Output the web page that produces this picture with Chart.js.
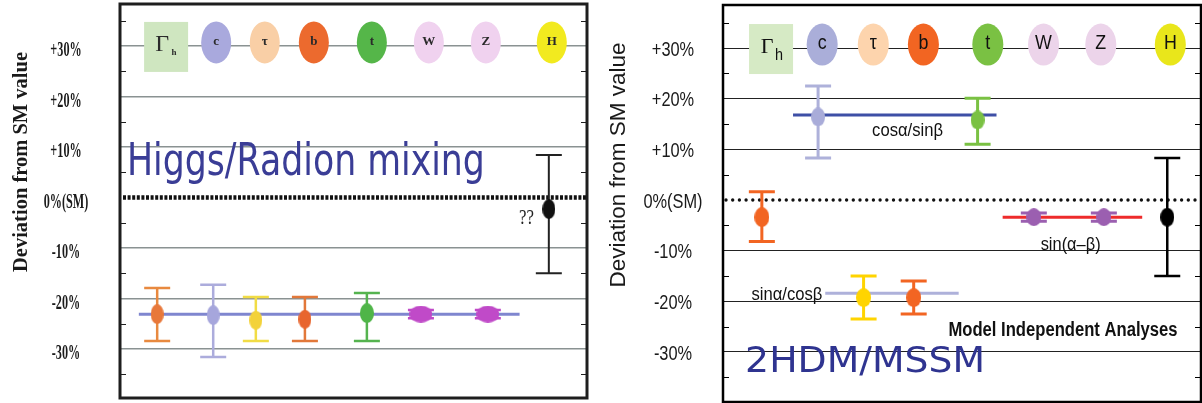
<!DOCTYPE html>
<html lang="en">
<head>
<meta charset="UTF-8">
<title>Deviation from SM value</title>
<script src="https://cdn.jsdelivr.net/npm/chart.js@4"></script>
<style>
  html, body { margin: 0; padding: 0; background: #fff; }
  .wrap { position: relative; width: 1202px; height: 403px; overflow: hidden; }
  canvas { position: absolute; top: 0; }
  #leftChart { left: 0; }
  #rightChart { left: 600px; }
</style>
</head>
<body>
<div class="wrap">
  <canvas id="leftChart" width="600" height="403"></canvas>
  <canvas id="rightChart" width="602" height="403"></canvas>
</div>
<script>
// couplings shown across the top of both panels
const markerNames = ['Γh', 'c', 'τ', 'b', 't', 'W', 'Z', 'H'];
const gridValues = [-30, -20, -10, 0, 10, 20, 30];
const gridLabels = ['-30%', '-20%', '-10%', '0%(SM)', '+10%', '+20%', '+30%'];

// left panel: Higgs/Radion mixing (deviation in %)
const leftMarkerX = [0.93, 1.94, 2.92, 3.91, 5.08, 6.23, 7.38, 8.71];
const leftX  = [0.75, 1.88, 2.74, 3.73, 4.98, 6.07, 7.42, 8.65];
const leftY  = [-23.1, -23.3, -24.3, -24.1, -22.9, -23.1, -23.1, -2.3];
const leftHi = [-17.9, -17.3, -19.7, -19.7, -18.9, -22.3, -22.3, 8.4];
const leftLo = [-28.4, -31.6, -28.4, -28.4, -28.4, -23.9, -23.9, -15.0];
const mixFitX = [0.38, 8.06];
const mixFitY = [-23.1, -23.1];

// right panel: 2HDM/MSSM
const rightMarkerX = [0.94, 1.94, 2.94, 3.92, 5.18, 6.27, 7.39, 8.75];
const rightX  = [0.76, 1.86, 2.75, 3.73, 4.98, 6.08, 7.45, 8.69];
const rightY  = [-3.4, 16.4, -19.3, -19.3, 15.8, -3.4, -3.4, -3.4];
const rightHi = [1.6, 22.5, -15.0, -16.0, 20.1, -2.6, -2.6, 8.3];
const rightLo = [-8.2, 8.3, -23.5, -22.5, 11.0, -4.2, -4.2, -15.0];
const cosFitX = [1.37, 5.35], cosFitY = [16.8, 16.8];
const sinCosFitX = [2.0, 4.61], sinCosFitY = [-18.4, -18.4];
const sinDiffFitX = [5.47, 8.2], sinDiffFitY = [-3.4, -3.4];

function pts(xs, ys) {
  return xs.map((x, i) => ({ x: x, y: ys[i] }));
}

function ellipseImg(w, h, color) {
  const c = document.createElement('canvas');
  c.width = w; c.height = h;
  const g = c.getContext('2d');
  g.fillStyle = color;
  g.beginPath();
  g.ellipse(w / 2, h / 2, w / 2, h / 2, 0, 0, Math.PI * 2);
  g.fill();
  return c;
}

function drawText(ctx, t) {
  ctx.save();
  ctx.font = t.font;
  ctx.fillStyle = t.color || '#111';
  ctx.textAlign = 'center';
  ctx.textBaseline = 'middle';
  const w = ctx.measureText(t.text).width;
  const sx = t.width ? t.width / w : (t.sx || 1);
  ctx.translate(t.cx, t.cy);
  if (t.rotate) ctx.rotate(t.rotate);
  ctx.scale(sx, 1);
  ctx.fillText(t.text, 0, 0);
  ctx.restore();
}

function drawMarker(ctx, name, cx, cy, i, m) {
  if (name === 'Γh') {
    ctx.fillStyle = m.boxColor;
    ctx.fillRect(cx - 22, cy - 24, 44, 50);
    drawText(ctx, { text: 'Γ', cx: cx - 4, cy: cy - 1, font: m.gammaFont, color: m.textColor });
    drawText(ctx, { text: 'h', cx: cx + 8, cy: cy + 7, font: m.subFont, color: m.textColor, sx: m.sx });
    return;
  }
  const ey = cy - 3.5;
  ctx.fillStyle = m.colors[i];
  ctx.beginPath();
  ctx.ellipse(cx, ey, m.rx, 21, 0, 0, Math.PI * 2);
  ctx.fill();
  drawText(ctx, { text: name, cx: cx, cy: ey - 1, font: m.letterFont, color: m.textColor, sx: m.sx });
}

const panelPlugin = {
  id: 'panel',
  beforeDatasetsDraw(chart, args, o) {
    const { ctx, chartArea: a, scales: { x, y } } = chart;
    ctx.save();
    // minor ticks on both edges
    ctx.strokeStyle = o.frameColor;
    ctx.lineWidth = 1;
    for (let v = -35; v <= 35; v += 10) {
      const py = Math.round(y.getPixelForValue(v)) + 0.5;
      ctx.beginPath();
      ctx.moveTo(a.left, py); ctx.lineTo(a.left + 6, py);
      ctx.moveTo(a.right, py); ctx.lineTo(a.right - 6, py);
      ctx.stroke();
    }
    // SM reference line
    const y0 = y.getPixelForValue(0);
    ctx.strokeStyle = '#111';
    ctx.lineWidth = o.smWidth;
    ctx.lineCap = o.smCap;
    ctx.setLineDash(o.smDash);
    ctx.beginPath();
    ctx.moveTo(a.left + 3, y0); ctx.lineTo(a.right, y0);
    ctx.stroke();
    ctx.setLineDash([]);
    ctx.lineCap = 'butt';
    // coupling markers on the +30% line
    const yt = y.getPixelForValue(30);
    o.markerX.forEach((mx, i) => drawMarker(ctx, markerNames[i], x.getPixelForValue(mx), yt, i, o.marker));
    // error bars
    o.errX.forEach((ex, i) => {
      const px = x.getPixelForValue(ex);
      const ph = y.getPixelForValue(o.errHi[i]);
      const pl = y.getPixelForValue(o.errLo[i]);
      ctx.strokeStyle = o.errColors[i];
      ctx.lineWidth = o.errWidth[i];
      ctx.beginPath();
      ctx.moveTo(px, ph); ctx.lineTo(px, pl);
      ctx.moveTo(px - 13, ph); ctx.lineTo(px + 13, ph);
      ctx.moveTo(px - 13, pl); ctx.lineTo(px + 13, pl);
      ctx.stroke();
    });
    ctx.restore();
  },
  afterDatasetsDraw(chart, args, o) {
    const { ctx, scales: { x, y } } = chart;
    o.notes.forEach(n => drawText(ctx, Object.assign({}, n, {
      cx: x.getPixelForValue(n.x), cy: y.getPixelForValue(n.y)
    })));
  },
  afterDraw(chart, args, o) {
    const { ctx, chartArea: a, scales: { y } } = chart;
    ctx.save();
    ctx.strokeStyle = o.frameColor;
    ctx.lineWidth = o.frameWidth;
    ctx.strokeRect(a.left, a.top, a.right - a.left, a.bottom - a.top);
    ctx.restore();
    gridValues.forEach((v, i) => drawText(ctx, {
      text: gridLabels[i], cx: o.labelX, cy: y.getPixelForValue(v) + o.labelDy,
      font: o.labelFont, sx: o.labelSx, color: '#1a1a1a'
    }));
    drawText(ctx, Object.assign({ rotate: -Math.PI / 2, color: '#1a1a1a' }, o.title));
  }
};

function makeChart(id, cfg) {
  return new Chart(document.getElementById(id), {
    type: 'scatter',
    data: { datasets: cfg.datasets },
    options: {
      responsive: false,
      animation: false,
      devicePixelRatio: 1,
      events: [],
      layout: { padding: cfg.padding, autoPadding: false },
      plugins: { legend: { display: false }, tooltip: { enabled: false }, panel: cfg.panel },
      scales: {
        x: { type: 'linear', display: false, min: 0, max: cfg.xMax },
        y: {
          type: 'linear', min: cfg.yMin, max: cfg.yMax,
          afterBuildTicks: s => { s.ticks = gridValues.map(v => ({ value: v })); },
          ticks: { display: false },
          border: { display: false },
          grid: {
            drawTicks: false,
            lineWidth: cfg.gridWidth,
            color: c => (c.tick && c.tick.value === 0) ? 'rgba(0,0,0,0)' : cfg.gridColor
          }
        }
      }
    },
    plugins: [panelPlugin]
  });
}

function fitLine(xs, ys, color, width) {
  return { type: 'line', data: pts(xs, ys), borderColor: color, borderWidth: width,
           pointRadius: 0, showLine: true, order: 2 };
}

// left chart
const leftPointColors = ['#e8783a', '#a6a6dc', '#f3d23a', '#e8652e', '#4fb548', '#c04ac8', '#c04ac8', '#111'];
const leftSizes = [[13, 20], [13, 20], [13, 19], [13, 19], [14, 20], [23, 17], [23, 17], [13, 20]];
makeChart('leftChart', {
  padding: { left: 120, right: 13, top: 4, bottom: 5 },
  xMax: 9.42, yMin: -39.7, yMax: 38.3,
  gridColor: '#8a9292', gridWidth: 1.5,
  datasets: [
    fitLine(mixFitX, mixFitY, '#7f86cf', 3),
    { data: pts(leftX, leftY), order: 1,
      pointStyle: leftPointColors.map((c, i) => ellipseImg(leftSizes[i][0], leftSizes[i][1], c)) }
  ],
  panel: {
    frameColor: '#1e1e1e', frameWidth: 3,
    smWidth: 4.5, smCap: 'butt', smDash: [3, 1.6],
    markerX: leftMarkerX,
    marker: {
      boxColor: '#cfe6c0', rx: 15, sx: 1, textColor: '#2a2a2a',
      colors: [null, '#a9a9dd', '#f9cfa6', '#ec6a2e', '#55b649', '#f0d2ef', '#f0d2ef', '#f2ea1f'],
      letterFont: 'bold 13px "Liberation Serif"', gammaFont: '24px "Liberation Serif"',
      subFont: 'bold 9px "Liberation Serif"'
    },
    errX: leftX, errHi: leftHi, errLo: leftLo,
    errColors: ['#e8893f', '#acacdc', '#f1dc45', '#e2783a', '#55b34f', '#c04ac8', '#c04ac8', '#222'],
    errWidth: [2.5, 2.5, 2.5, 2.5, 2.5, 2.5, 2.5, 2],
    notes: [
      { text: 'Higgs/Radion mixing', x: 3.75, y: 6.8, font: '44px "DejaVu Sans"', width: 358, color: '#3a3d96' },
      { text: '??', x: 8.2, y: -4.1, font: '21px "Liberation Serif"', sx: 0.8, color: '#222' }
    ],
    labelX: 66, labelDy: 5, labelFont: 'bold 21px "Liberation Serif"', labelSx: 0.58,
    title: { text: 'Deviation from SM value', cx: 22, cy: 162, font: 'bold 20px "Liberation Serif"', width: 220 }
  }
});

// right chart
const rightPointColors = ['#f26522', '#a9acd9', '#ffd400', '#f26522', '#7ac143', '#9b5fb0', '#9b5fb0', '#000'];
const rightSizes = [[15, 20], [14, 19], [15, 19], [15, 19], [14, 19], [15, 18], [15, 18], [14, 19]];
makeChart('rightChart', {
  padding: { left: 123, right: 1, top: 5, bottom: 1 },
  xMax: 9.35, yMin: -39.9, yMax: 38.5,
  gridColor: '#222', gridWidth: 1,
  datasets: [
    fitLine(cosFitX, cosFitY, '#3e4fa6', 3),
    fitLine(sinCosFitX, sinCosFitY, '#aeb1da', 3),
    fitLine(sinDiffFitX, sinDiffFitY, '#ee2b2b', 3),
    { data: pts(rightX, rightY), order: 1,
      pointStyle: rightPointColors.map((c, i) => ellipseImg(rightSizes[i][0], rightSizes[i][1], c)) }
  ],
  panel: {
    frameColor: '#000', frameWidth: 2.5,
    smWidth: 3.4, smCap: 'round', smDash: [0, 6.7],
    markerX: rightMarkerX,
    marker: {
      boxColor: '#d6eac5', rx: 15.5, sx: 0.85, textColor: '#111',
      colors: [null, '#aaaed9', '#fdd4ad', '#f26522', '#7ac143', '#ecd4ea', '#ecd4ea', '#e9e61b'],
      letterFont: '21px "Liberation Sans"', gammaFont: '22px "Liberation Serif"',
      subFont: '17px "Liberation Sans"'
    },
    errX: rightX, errHi: rightHi, errLo: rightLo,
    errColors: ['#f26522', '#aeb1da', '#ffd400', '#f26522', '#7ac143', '#9b5fb0', '#9b5fb0', '#000'],
    errWidth: [3, 3, 3, 3, 3, 3, 3, 2.5],
    notes: [
      { text: 'cosα/sinβ', x: 3.61, y: 13.6, font: '19px "Liberation Sans"', width: 71 },
      { text: 'sinα/cosβ', x: 1.25, y: -18.75, font: '19px "Liberation Sans"', width: 71 },
      { text: 'sin(α–β)', x: 6.80, y: -8.9, font: '19px "Liberation Sans"', width: 60 },
      { text: 'Model Independent Analyses', x: 6.65, y: -25.7, font: 'bold 20px "Liberation Sans"', width: 229 },
      { text: '2HDM/MSSM', x: 2.78, y: -32.2, font: '35px "DejaVu Sans"', width: 240, color: '#2f3490' }
    ],
    labelX: 73, labelDy: 2, labelFont: '21px "Liberation Sans"', labelSx: 0.78,
    title: { text: 'Deviation from SM value', cx: 19, cy: 165, font: '22px "Liberation Sans"', width: 245 }
  }
});
</script>
</body>
</html>
